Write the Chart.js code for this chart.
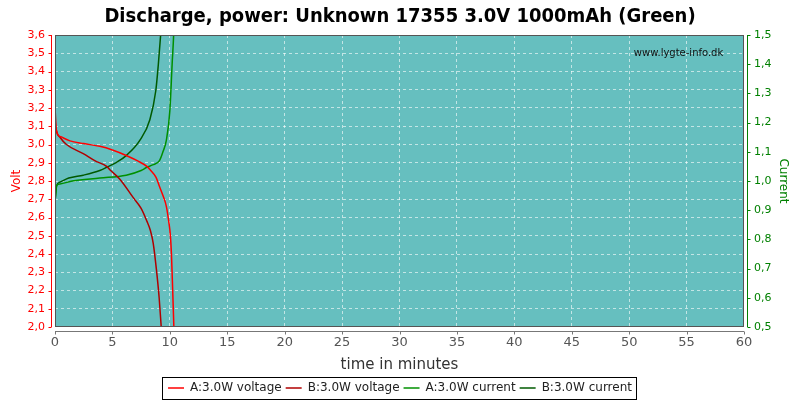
<!DOCTYPE html>
<html>
<head>
<meta charset="utf-8">
<script src="https://cdn.jsdelivr.net/npm/chart.js@4"></script>
<style>
  html, body { margin: 0; padding: 0; background: #fff; }
  #wrap { width: 800px; height: 400px; }
</style>
</head>
<body>
<div id="wrap"><canvas id="c" width="800" height="400"></canvas></div>
<script>
// ========== DATA ==========
const TITLE = 'Discharge, power: Unknown 17355 3.0V 1000mAh (Green)';
const LABELS = ['A:3.0W voltage', 'B:3.0W voltage', 'A:3.0W current', 'B:3.0W current'];

const timeVoltA = [0, 0.05, 0.15, 0.3, 0.6, 1.3, 2.5, 3.9, 5.0, 6.2, 7.2, 8.0, 8.3, 8.8, 9.1, 9.4, 9.7, 9.9, 10.05, 10.14, 10.25, 10.35];
const voltA =     [3.23, 3.12, 3.07, 3.05, 3.04, 3.02, 3.005, 2.99, 2.97, 2.94, 2.91, 2.88, 2.86, 2.82, 2.77, 2.72, 2.66, 2.58, 2.5, 2.40, 2.2, 2.0];

const timeVoltB = [0, 0.05, 0.15, 0.43, 1.0, 2.46, 3.5, 4.5, 4.8, 5.65, 6.8, 7.5, 8.0, 8.3, 8.55, 8.84, 9.07, 9.25];
const voltB =     [3.23, 3.12, 3.07, 3.04, 3.0, 2.95, 2.91, 2.88, 2.86, 2.81, 2.71, 2.65, 2.58, 2.53, 2.46, 2.31, 2.16, 2.0];

const timeCurA = [0, 0.15, 0.43, 1.5, 3.9, 6.2, 7.5, 8.0, 8.5, 9.1, 9.4, 9.7, 10.0, 10.2, 10.35, 10.4];
const curA =     [0.93, 0.985, 0.99, 1.0, 1.01, 1.02, 1.036, 1.047, 1.055, 1.07, 1.1, 1.14, 1.24, 1.4, 1.52, 1.6];

const timeCurB = [0, 0.15, 0.43, 1.2, 2.46, 3.9, 4.5, 5.4, 6.2, 7.4, 8.26, 8.78, 9.0, 9.2, 9.3];
const curB =     [0.93, 0.985, 0.996, 1.01, 1.02, 1.036, 1.047, 1.065, 1.087, 1.14, 1.21, 1.31, 1.4, 1.5, 1.56];

const xTicks = [0, 5, 10, 15, 20, 25, 30, 35, 40, 45, 50, 55, 60];

// ========== HELPERS ==========
const toPts = (xs, ys) => xs.map((x, i) => ({ x, y: ys[i] }));
const comma = v => Number(v).toFixed(1).replace('.', ',');
const FONT = '"DejaVu Sans", sans-serif';

// plot background, frame, offset axis lines, tick marks, watermark, legend box
const decor = {
    id: 'decor',
    beforeDraw(chart) {
        const { ctx, chartArea: a } = chart;
        ctx.save();
        ctx.fillStyle = '#66bfbf';
        ctx.fillRect(a.left, a.top, a.right - a.left, a.bottom - a.top);
        ctx.restore();
    },
    afterDraw(chart) {
        const { ctx, chartArea: a, scales } = chart;
        ctx.save();
        // frame
        ctx.strokeStyle = '#555';
        ctx.lineWidth = 1;
        ctx.strokeRect(a.left + 0.5, a.top + 0.5, a.right - a.left - 1, a.bottom - a.top - 1);

        // left axis (red)
        const lx = a.left - 3.5;
        ctx.strokeStyle = '#ff0000';
        ctx.beginPath();
        ctx.moveTo(lx, a.top); ctx.lineTo(lx, a.bottom);
        scales.y.ticks.forEach(t => {
            const py = Math.round(scales.y.getPixelForValue(t.value)) + 0.5;
            ctx.moveTo(lx, py); ctx.lineTo(lx - 3, py);
        });
        ctx.stroke();

        // right axis (green)
        const rx = a.right + 3.5;
        ctx.strokeStyle = '#008000';
        ctx.beginPath();
        ctx.moveTo(rx, a.top); ctx.lineTo(rx, a.bottom);
        scales.y1.ticks.forEach(t => {
            const py = Math.round(scales.y1.getPixelForValue(t.value)) + 0.5;
            ctx.moveTo(rx, py); ctx.lineTo(rx + 3, py);
        });
        ctx.stroke();

        // bottom axis (gray)
        const by = a.bottom + 4.5;
        ctx.strokeStyle = '#777';
        ctx.beginPath();
        ctx.moveTo(a.left, by); ctx.lineTo(a.right, by);
        scales.x.ticks.forEach(t => {
            const px = Math.round(scales.x.getPixelForValue(t.value)) + 0.5;
            ctx.moveTo(px, by); ctx.lineTo(px, by + 3);
        });
        ctx.stroke();

        // watermark
        ctx.fillStyle = '#111';
        ctx.font = '10px ' + FONT;
        ctx.textAlign = 'center';
        ctx.textBaseline = 'middle';
        ctx.fillText('www.lygte-info.dk', scales.x.getPixelForValue(54.3), scales.y.getPixelForValue(3.5));

        // legend box
        const hb = chart.legend.legendHitBoxes;
        if (hb && hb.length) {
            const l = Math.min(...hb.map(h => h.left)) - 6;
            const r = Math.max(...hb.map(h => h.left + h.width)) + 4;
            const t = Math.min(...hb.map(h => h.top)) - 5;
            const b = Math.max(...hb.map(h => h.top + h.height)) + 5;
            ctx.strokeStyle = '#000';
            ctx.strokeRect(Math.round(l) + 0.5, Math.round(t) + 0.5, Math.round(r - l), Math.round(b - t));
        }
        ctx.restore();
    }
};

// ========== CHART ==========
const ds = (label, pts, color, axis) => ({
    label, data: pts, borderColor: color, backgroundColor: color,
    yAxisID: axis, borderWidth: 1.5, pointRadius: 0,
    cubicInterpolationMode: 'monotone', fill: false
});

new Chart(document.getElementById('c'), {
    type: 'line',
    data: {
        datasets: [
            ds(LABELS[0], toPts(timeVoltA, voltA), '#ff0000', 'y'),
            ds(LABELS[1], toPts(timeVoltB, voltB), '#b00000', 'y'),
            ds(LABELS[2], toPts(timeCurA, curA), '#009000', 'y1'),
            ds(LABELS[3], toPts(timeCurB, curB), '#005a00', 'y1')
        ]
    },
    options: {
        responsive: false,
        animation: false,
        layout: { padding: { left: 0, right: 0, top: 0, bottom: -4 } },
        plugins: {
            title: {
                display: true, text: TITLE, color: '#000',
                font: { family: '"DejaVu Sans Condensed", sans-serif', size: 20, weight: 'bold' },
                padding: { top: 5, bottom: 6 }
            },
            legend: {
                position: 'bottom',
                labels: {
                    usePointStyle: true, pointStyle: 'line', pointStyleWidth: 16,
                    color: '#222', padding: 4,
                    font: { family: FONT, size: 12 }
                }
            },
            tooltip: { enabled: false }
        },
        scales: {
            x: {
                type: 'linear', min: 0, max: 60,
                afterBuildTicks: s => { s.ticks = xTicks.map(v => ({ value: v })); },
                afterFit: s => { s.height = 51; },
                ticks: { color: '#555', font: { family: FONT, size: 13 }, padding: 2 },
                grid: { color: 'rgba(255,255,255,0.6)', tickColor: 'transparent', tickLength: 6 },
                border: { display: false, dash: [3, 3] },
                title: { display: true, text: 'time in minutes', color: '#333', font: { family: FONT, size: 15 }, padding: { top: 2 } }
            },
            y: {
                position: 'left', min: 2.0, max: 3.6,
                ticks: { stepSize: 0.1, color: '#ff0000', font: { family: FONT, size: 11 }, callback: comma, padding: 3 },
                afterFit: s => { s.width = 55; },
                grid: { color: 'rgba(255,255,255,0.6)', tickColor: 'transparent', tickLength: 7 },
                border: { display: false, dash: [3, 3] },
                title: { display: true, text: 'Volt', color: '#ff0000', font: { family: FONT, size: 12 }, padding: { top: 10, bottom: 0 } }
            },
            y1: {
                position: 'right', min: 0.5, max: 1.5,
                ticks: { stepSize: 0.1, color: '#008000', font: { family: FONT, size: 11 }, callback: comma, padding: 3 },
                afterFit: s => { s.width = 56; },
                grid: { drawOnChartArea: false, tickColor: 'transparent', tickLength: 7 },
                border: { display: false },
                title: { display: true, text: 'Current', color: '#008000', font: { family: FONT, size: 12 }, padding: { top: 10, bottom: 0 } }
            }
        }
    },
    plugins: [decor]
});
</script>
</body>
</html>
